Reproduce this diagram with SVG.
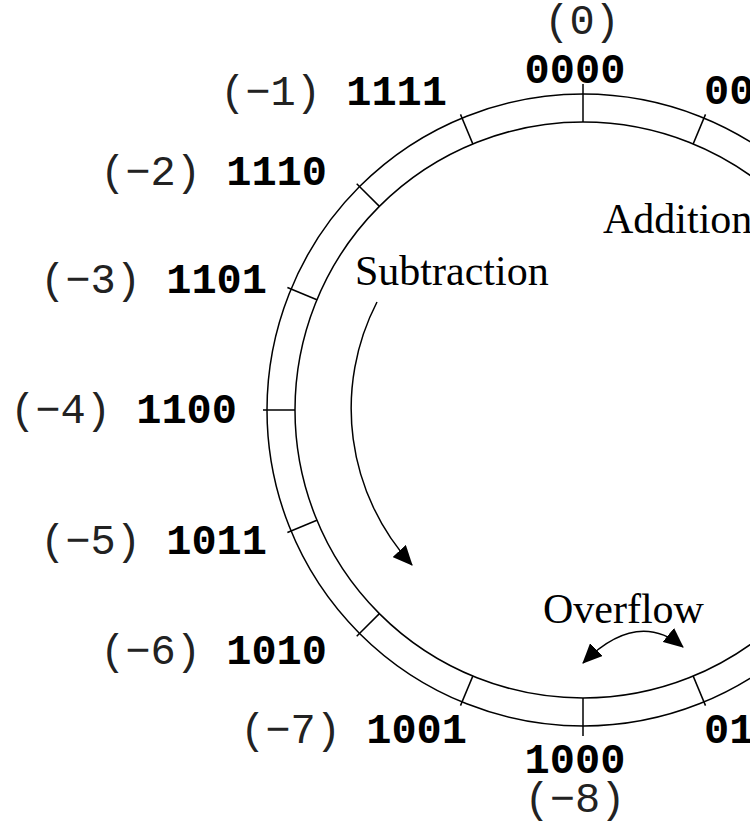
<svg xmlns="http://www.w3.org/2000/svg" width="750" height="821" viewBox="0 0 750 821">
<style>
.lbl{font-family:"Liberation Mono","Courier New",monospace;font-size:42px;fill:#000}
.p{font-weight:normal;fill:#222}
.b{font-weight:bold}
.ser{font-family:"Liberation Serif","Times New Roman",serif;font-size:42px;fill:#000}
.ring{fill:none;stroke:#000;stroke-width:1.5}
.tick{stroke:#000;stroke-width:1.5}
.arr{fill:none;stroke:#000;stroke-width:1.5}
</style>
<defs>
<marker id="ah" markerUnits="userSpaceOnUse" viewBox="0 0 20 18" refX="19" refY="9" markerWidth="20" markerHeight="18" orient="auto-start-reverse">
<path d="M0,0 L20,9 L0,18 z" fill="#000"/>
</marker>
</defs>
<rect width="750" height="821" fill="#fff"/>
<g id="wheel">
<circle class="ring" cx="583" cy="410" r="316"/>
<circle class="ring" cx="583" cy="410" r="288"/>
<line class="tick" x1="583" y1="122" x2="583" y2="84"/>
<line class="tick" x1="693.2" y1="143.9" x2="705.5" y2="114.4"/>
<line class="tick" x1="472.8" y1="143.9" x2="460.5" y2="114.4"/>
<line class="tick" x1="379.4" y1="206.4" x2="356.7" y2="183.7"/>
<line class="tick" x1="316.9" y1="299.8" x2="287.4" y2="287.5"/>
<line class="tick" x1="295" y1="410" x2="263" y2="410"/>
<line class="tick" x1="316.9" y1="520.2" x2="287.4" y2="532.5"/>
<line class="tick" x1="379.4" y1="613.6" x2="356.7" y2="636.3"/>
<line class="tick" x1="472.8" y1="676.1" x2="460.5" y2="705.6"/>
<line class="tick" x1="583" y1="698" x2="583" y2="736"/>
<line class="tick" x1="693.2" y1="676.1" x2="705.5" y2="705.6"/>
</g>
<g id="n0"><text class="lbl p" x="582" y="34" text-anchor="middle">(0)</text><text class="lbl b" x="575" y="83" text-anchor="middle">0000</text></g>
<g id="n1"><text class="lbl b" x="704" y="104">0001</text></g>
<g id="n7"><text class="lbl b" x="704" y="743">0111</text></g>
<g id="nm1"><text class="lbl" x="447" y="105" text-anchor="end"><tspan class="p">(−1) </tspan><tspan class="b">1111</tspan></text></g>
<g id="nm2"><text class="lbl" x="327" y="185" text-anchor="end"><tspan class="p">(−2) </tspan><tspan class="b">1110</tspan></text></g>
<g id="nm3"><text class="lbl" x="267" y="293" text-anchor="end"><tspan class="p">(−3) </tspan><tspan class="b">1101</tspan></text></g>
<g id="nm4"><text class="lbl" x="237" y="423" text-anchor="end"><tspan class="p">(−4) </tspan><tspan class="b">1100</tspan></text></g>
<g id="nm5"><text class="lbl" x="267" y="554" text-anchor="end"><tspan class="p">(−5) </tspan><tspan class="b">1011</tspan></text></g>
<g id="nm6"><text class="lbl" x="327" y="664" text-anchor="end"><tspan class="p">(−6) </tspan><tspan class="b">1010</tspan></text></g>
<g id="nm7"><text class="lbl" x="467" y="743" text-anchor="end"><tspan class="p">(−7) </tspan><tspan class="b">1001</tspan></text></g>
<g id="nm8"><text class="lbl b" x="575" y="773" text-anchor="middle">1000</text><text class="lbl p" x="575" y="812" text-anchor="middle">(−8)</text></g>
<g id="labels">
<text class="ser" x="355" y="285">Subtraction</text>
<text class="ser" x="603" y="233">Addition</text>
<text class="ser" x="543" y="623">Overflow</text>
</g>
<g id="connectors">
<path class="arr" d="M377,302 A232,232 0 0 0 412,565" marker-end="url(#ah)"/>
<path class="arr" d="M583,663 Q637,609 683,647" marker-start="url(#ah)" marker-end="url(#ah)"/>
</g>
</svg>
